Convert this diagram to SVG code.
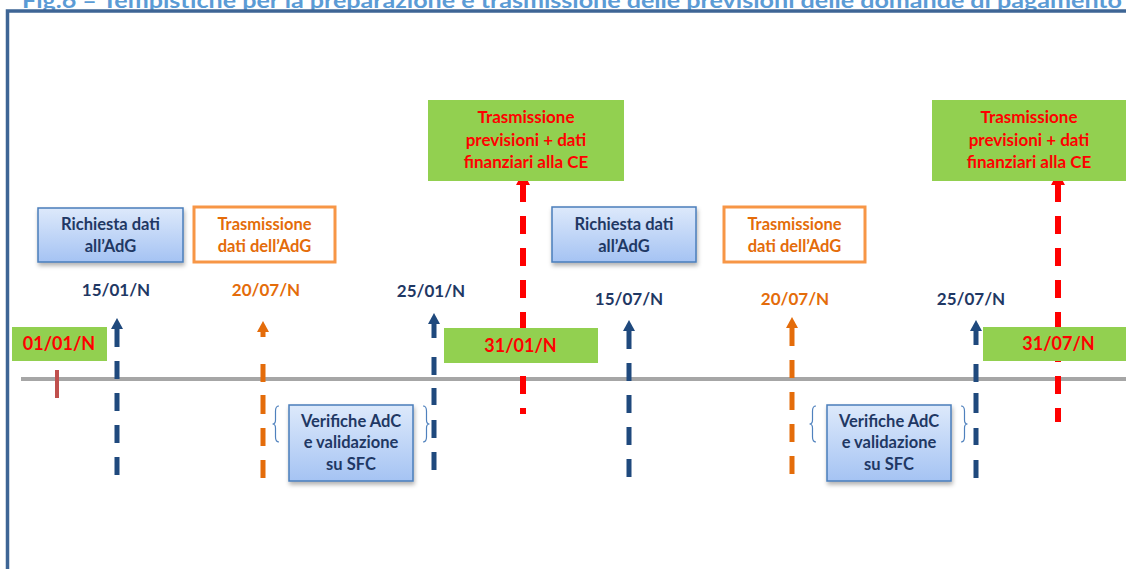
<svg xmlns="http://www.w3.org/2000/svg" width="1126" height="569" viewBox="0 0 1126 569">
<style>
text{font-family:Lato,"Liberation Sans",sans-serif;font-weight:bold;text-anchor:middle}
.t16{font-size:16.5px}
.t17{font-size:17px}
.navy{fill:#1f3864}
.orange{fill:#e46c0a}
.red{fill:#ff0000}
.bluebox{fill:url(#bg);stroke:#4a7ebb;stroke-width:1.5;filter:url(#sh)}
.obox{fill:#fff;stroke:#f79646;stroke-width:3}
.green{fill:#92d050}
.dB{stroke:#1f497d;stroke-width:5;fill:none}
.dO{stroke:#e46c0a;stroke-width:5;fill:none}
.dR{stroke:#ff0000;stroke-width:6;fill:none;stroke-dasharray:18 14}
.hB{fill:#1f497d}
.hO{fill:#e46c0a}
.hR{fill:#ff0000}
.brace{fill:none;stroke:#4f81bd;stroke-width:1.2}
</style>
<defs>
<linearGradient id="bg" x1="0" y1="0" x2="0" y2="1">
<stop offset="0" stop-color="#dde9fb"/>
<stop offset="1" stop-color="#a5c3f3"/>
</linearGradient>
<filter id="sh" x="-10%" y="-10%" width="130%" height="140%">
<feDropShadow dx="1" dy="3" stdDeviation="2" flood-color="#000" flood-opacity="0.3"/>
</filter>
</defs>
<rect width="1126" height="569" fill="#fff"/>
<text x="572" y="7.5" style="font-size:21px;fill:#5b9bd5" textLength="1100" lengthAdjust="spacingAndGlyphs">Fig.6 – Tempistiche per la preparazione e trasmissione delle previsioni delle domande di pagamento</text>
<path d="M7.5,569 V11 H1126" fill="none" stroke="#3e6595" stroke-width="3.5"/>
<g id="timeline">
<line x1="21" y1="379" x2="1126" y2="379" stroke="#a6a6a6" stroke-width="4"/>
<line x1="57" y1="370" x2="57" y2="398" stroke="#c0504d" stroke-width="4"/>
</g>
<g id="connectors">
<polygon class="hR" points="516,185 523,172 530,185"/>
<path class="dR" d="M523,184 V414"/>
<polygon class="hR" points="1051,185 1058,172 1065,185"/>
<path class="dR" d="M1058,184 V422"/>
<polygon class="hB" points="111,329 117,318 123,329"/>
<path class="dB" d="M117,329 V475" stroke-dasharray="18 14"/>
<polygon class="hO" points="257,332 263,321 269,332"/>
<path class="dO" d="M263,332 V478" stroke-dasharray="5 27 18 13 19 14 18 14 18"/>
<polygon class="hB" points="428,324 434,313 440,324"/>
<path class="dB" d="M434,324 V470" stroke-dasharray="14 19 18 13 17 15 18 14 18"/>
<polygon class="hB" points="623,331 629,320 635,331"/>
<path class="dB" d="M629,331 V477" stroke-dasharray="18 14"/>
<polygon class="hO" points="786,328 792,317 798,328"/>
<path class="dO" d="M792,328 V474" stroke-dasharray="18 14"/>
<polygon class="hB" points="970,331 976,320 982,331"/>
<path class="dB" d="M976,331 V478" stroke-dasharray="14 19 18 11 20 15 17 15 18"/>
</g>
<g id="ce1">
<rect class="green" x="428" y="100" width="196" height="81"/>
<text class="t17 red" x="526" y="123">Trasmissione</text>
<text class="t17 red" x="526" y="146">previsioni + dati</text>
<text class="t17 red" x="526" y="168">finanziari alla CE</text>
</g>
<g id="ce2">
<rect class="green" x="932" y="100" width="194" height="81"/>
<text class="t17 red" x="1029" y="123">Trasmissione</text>
<text class="t17 red" x="1029" y="146">previsioni + dati</text>
<text class="t17 red" x="1029" y="168">finanziari alla CE</text>
</g>
<g id="richiesta1">
<rect class="bluebox" x="38" y="208" width="145" height="54"/>
<text class="t16 navy" x="110.5" y="229.5">Richiesta dati</text>
<text class="t16 navy" x="110.5" y="251.5">all’AdG</text>
</g>
<g id="trasm1">
<rect class="obox" x="194" y="207" width="141" height="55"/>
<text class="t16 orange" x="264.5" y="229.5">Trasmissione</text>
<text class="t16 orange" x="264.5" y="251.5">dati dell’AdG</text>
</g>
<g id="richiesta2">
<rect class="bluebox" x="552" y="207" width="144" height="55"/>
<text class="t16 navy" x="624" y="229.5">Richiesta dati</text>
<text class="t16 navy" x="624" y="251.5">all’AdG</text>
</g>
<g id="trasm2">
<rect class="obox" x="724" y="207" width="141" height="55"/>
<text class="t16 orange" x="794.5" y="229.5">Trasmissione</text>
<text class="t16 orange" x="794.5" y="251.5">dati dell’AdG</text>
</g>
<g id="dates">
<text class="t17 navy" x="116" y="296">15/01/N</text>
<text class="t17 orange" x="266" y="296">20/07/N</text>
<text class="t17 navy" x="431" y="297">25/01/N</text>
<text class="t17 navy" x="629" y="305">15/07/N</text>
<text class="t17 orange" x="795" y="305">20/07/N</text>
<text class="t17 navy" x="971" y="305">25/07/N</text>
</g>
<g id="d0101">
<rect class="green" x="12" y="327" width="95" height="34"/>
<text class="t17 red" x="59" y="350" style="font-size:18px">01/01/N</text>
</g>
<g id="d3101">
<rect class="green" x="444" y="328" width="154" height="35"/>
<text class="t17 red" x="520.5" y="352" style="font-size:18px">31/01/N</text>
</g>
<g id="d3107">
<rect class="green" x="983" y="327" width="143" height="34"/>
<text class="t17 red" x="1058.5" y="350" style="font-size:18px">31/07/N</text>
</g>
<g id="verifiche1">
<path class="brace" d="M279,406 Q275.5,406 275.5,411 V420 Q275.5,424 272.5,424 Q275.5,424 275.5,428 V437 Q275.5,442 279,442"/>
<path class="brace" d="M423,406 Q426.5,406 426.5,411 V420 Q426.5,424 429.5,424 Q426.5,424 426.5,428 V437 Q426.5,442 423,442"/>
<rect class="bluebox" x="289" y="405" width="124" height="76"/>
<text class="t16 navy" x="351" y="427">Verifiche AdC</text>
<text class="t16 navy" x="351" y="448">e validazione</text>
<text class="t16 navy" x="351" y="470">su SFC</text>
</g>
<g id="verifiche2">
<path class="brace" d="M816,406 Q812.5,406 812.5,411 V420 Q812.5,424 809.5,424 Q812.5,424 812.5,428 V437 Q812.5,442 816,442"/>
<path class="brace" d="M961,406 Q964.5,406 964.5,411 V420 Q964.5,424 967.5,424 Q964.5,424 964.5,428 V437 Q964.5,442 961,442"/>
<rect class="bluebox" x="827" y="405" width="124" height="76"/>
<text class="t16 navy" x="889" y="427">Verifiche AdC</text>
<text class="t16 navy" x="889" y="448">e validazione</text>
<text class="t16 navy" x="889" y="470">su SFC</text>
</g>
</svg>
